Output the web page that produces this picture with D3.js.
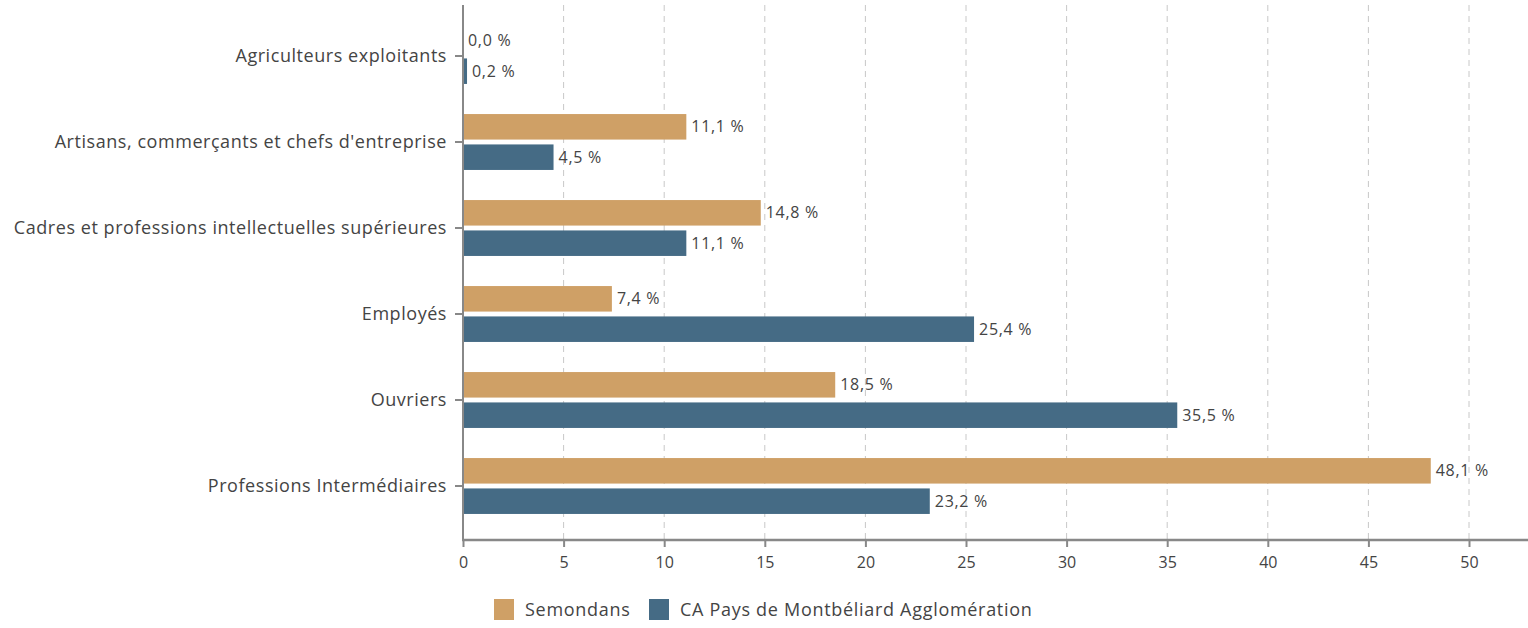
<!DOCTYPE html>
<html>
<head>
<meta charset="utf-8">
<script src="https://cdn.jsdelivr.net/npm/d3@7"></script>
<style>
  body { margin: 0; background: #fff; }
  text { font-family: "Open Sans", sans-serif; fill: #444; }
</style>
</head>
<body>
<svg id="chart" width="1528" height="628"></svg>
<script>
const categories = ["Agriculteurs exploitants", "Artisans, commerçants et chefs d'entreprise",
  "Cadres et professions intellectuelles supérieures", "Employés", "Ouvriers", "Professions Intermédiaires"];
const seriesNames = ["Semondans", "CA Pays de Montbéliard Agglomération"];
const semondans = [0.0, 11.1, 14.8, 7.4, 18.5, 48.1];
const capma = [0.2, 4.5, 11.1, 25.4, 35.5, 23.2];
const xTicks = [0, 5, 10, 15, 20, 25, 30, 35, 40, 45, 50];
const colors = ["#cfa066", "#456b85"];

const svg = d3.select("#chart");
const plotLeft = 463, plotRight = 1528, plotTop = 5, plotBottom = 540;
const font = "'Open Sans', sans-serif";

const x = d3.scaleLinear().domain([0, 50]).range([plotLeft, 1469]);
const y = d3.scaleBand().domain(categories).range([13, 529]).paddingInner(0.35).paddingOuter(0.175);
const ySub = d3.scaleBand().domain(seriesNames).range([0, y.bandwidth()]).paddingInner(0.16);
const color = d3.scaleOrdinal().domain(seriesNames).range(colors);

// grid
svg.append("g").selectAll("line").data(xTicks.slice(1)).enter().append("line")
  .attr("x1", d => x(d)).attr("x2", d => x(d))
  .attr("y1", plotTop).attr("y2", plotBottom)
  .attr("stroke", "#c8c8c8").attr("stroke-dasharray", "6,5").attr("stroke-width", 1);

const rows = categories.map((c, i) => ({ cat: c, vals: [semondans[i], capma[i]] }));
const fmt = v => v.toFixed(1).replace(".", ",") + " %";

const groups = svg.append("g").selectAll("g").data(rows).enter().append("g")
  .attr("transform", d => `translate(0,${y(d.cat)})`);

const bars = groups.selectAll("g").data(d => d.vals.map((v, j) => ({ name: seriesNames[j], v }))).enter().append("g");
bars.append("rect")
  .attr("x", x(0))
  .attr("y", d => ySub(d.name))
  .attr("width", d => Math.max(x(d.v) - x(0), 1))
  .attr("height", ySub.bandwidth())
  .attr("fill", d => color(d.name));
bars.append("text")
  .attr("x", d => x(d.v) + 5)
  .attr("y", d => ySub(d.name) + ySub.bandwidth() / 2)
  .attr("dy", "0.35em")
  .attr("font-size", 16)
  .attr("letter-spacing", 0.7)
  .text(d => fmt(d.v));

// y axis
const yAxis = svg.append("g").attr("transform", `translate(${plotLeft},0)`)
  .call(d3.axisLeft(y).tickSize(8).tickPadding(8));
yAxis.select(".domain").remove();
yAxis.selectAll(".tick line").attr("stroke", "#888").attr("stroke-width", 2);
yAxis.selectAll(".tick text").attr("font-size", 18).attr("letter-spacing", 0.55)
  .attr("fill", "#444").style("font-family", font);
svg.append("line").attr("x1", plotLeft).attr("x2", plotLeft).attr("y1", plotTop).attr("y2", plotBottom + 1)
  .attr("stroke", "#888").attr("stroke-width", 2);

// x axis
const xAxis = svg.append("g").attr("transform", `translate(0,${plotBottom})`)
  .call(d3.axisBottom(x).tickValues(xTicks).tickSize(7).tickPadding(10));
xAxis.select(".domain").remove();
xAxis.selectAll(".tick line").attr("stroke", "#888").attr("stroke-width", 2);
xAxis.selectAll(".tick text").attr("font-size", 16).attr("fill", "#444").style("font-family", font);
svg.append("line").attr("x1", plotLeft - 1).attr("x2", plotRight).attr("y1", plotBottom).attr("y2", plotBottom)
  .attr("stroke", "#888").attr("stroke-width", 2.5);

// legend
const legend = svg.append("g").attr("transform", "translate(494,599)");
const legendX = [0, 155];
seriesNames.forEach((n, i) => {
  legend.append("rect").attr("x", legendX[i]).attr("y", 0).attr("width", 20).attr("height", 21).attr("fill", colors[i]);
  legend.append("text").attr("x", legendX[i] + 31).attr("y", 10.5).attr("dy", "0.35em")
    .attr("font-size", 18).attr("letter-spacing", 0.7).text(n);
});
</script>
</body>
</html>
